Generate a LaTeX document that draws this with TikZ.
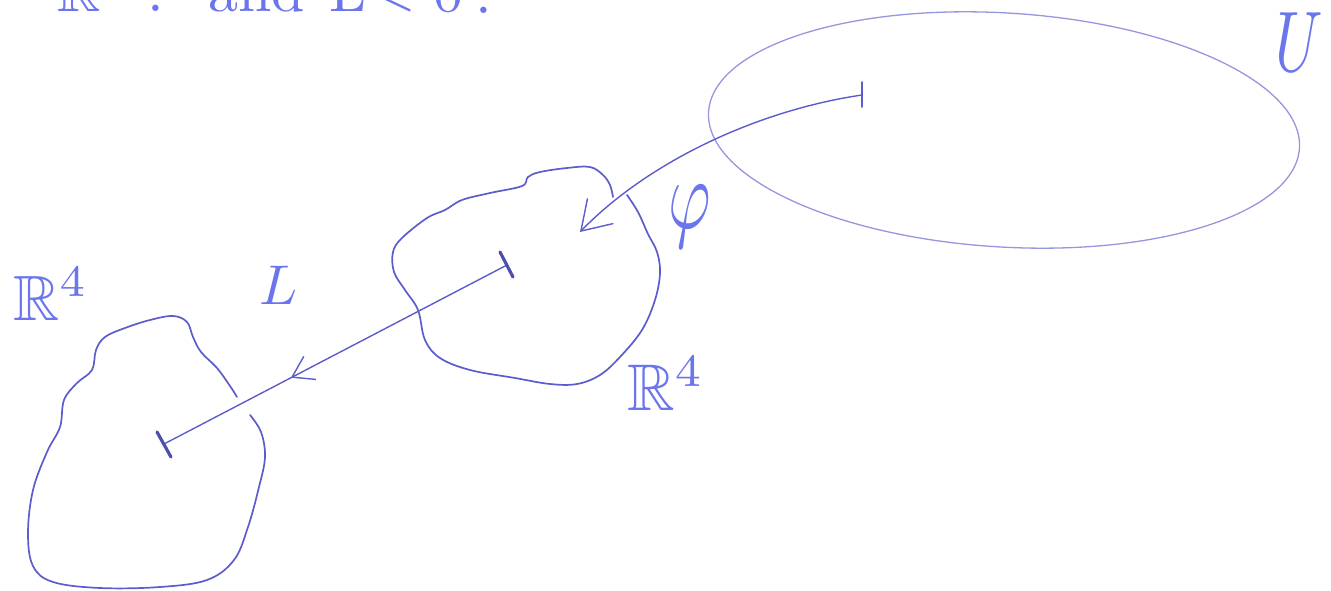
\documentclass[tikz,border=0pt]{standalone}
\usepackage{amssymb}
\usetikzlibrary{arrows.meta,decorations.markings}
\definecolor{ink}{RGB}{92,92,205}
\definecolor{txt}{RGB}{108,118,236}
\definecolor{pale}{RGB}{150,150,222}
\begin{document}
\begin{tikzpicture}[x=1pt,y=-1pt,
  blob/.style={draw=ink,line width=1.7pt,line join=round,line cap=round},
  conn/.style={draw=ink,line width=1.4pt,line cap=round},
  tick/.style={draw=ink!85!black,line width=3.2pt,line cap=round},
  lab/.style={text=txt,inner sep=0pt}]
\useasboundingbox (0,0) rectangle (1331,591);
\clip (0,0) rectangle (1331,591);

% partially visible heading
\node[lab,scale=6,anchor=base west] (t1) at (56,12) {$\mathbb{R}^4$};
\node[lab,scale=6,anchor=base west] (t2) at (146,12) {:};
\node[lab,scale=6,anchor=base west] (t3) at (207,12) {and};
\node[lab,scale=6,anchor=base west] (t4) at (328,12) {L};
\node[lab,scale=6,anchor=base west] (t5) at (368,10) {$<$};
\node[lab,scale=6,anchor=base west] (t6) at (432,12) {0};
\node[lab,scale=6,anchor=base west] (t7) at (474,14) {.};

% ellipse U
\draw[pale,line width=1.3pt,rotate around={-3.5:(1004,130)}] (1004,130) ellipse [x radius=296, y radius=117];

% left blob
\draw[blob] plot[smooth,tension=0.6] coordinates {(250,415) (261,432) (265,457) (259,487) (248,527) (234,560) (207,580) (160,587) (100,588) (53,582) (33,566) (28,533) (33,490) (47,452) (60,427) (64,400) (77,383) (92,370) (96,350) (105,337) (125,328) (150,320) (173,316) (187,322) (193,337) (201,352) (217,368) (230,386) (237,397)};

% middle blob
\draw[blob] plot[smooth,tension=0.6] coordinates {(627,195) (638,212) (648,234) (657,252) (660,273) (655,300) (642,330) (620,357) (600,375) (577,384) (550,384) (515,378) (470,370) (440,358) (425,340) (418,310) (405,290) (394,272) (393,252) (402,238) (427,218) (445,210) (462,200) (490,193) (522,186) (528,177) (540,172) (567,168) (590,167) (603,175) (610,185) (613,197)};

% points
\coordinate (e) at (862,95);
\coordinate (m) at (507,265);
\coordinate (l) at (164,444);
\coordinate (p) at (580,232);

% connectors
\draw[conn,-{Straight Barb[length=28pt,width=36pt,line width=1.4pt]}] (e) .. controls (760,110) and (650,160) .. (p);
\draw[conn,postaction={decorate},decoration={markings,mark=at position 0.63 with {\arrow{Straight Barb[length=20pt,width=26pt,line width=1.4pt]}}}] (m) -- (l);

% ticks
\draw[ink,line width=1.8pt,line cap=round,shift={(e)}] (0,-13) -- (0,12);
\draw[tick,shift={(m)}] (-7,-13) -- (6,12);
\draw[tick,shift={(l)}] (-7,-12) -- (7,13);

% labels
\node[lab,scale=6.4,anchor=base west] (r1) at (12,320) {$\mathbb{R}^4$};
\node[lab,scale=6.6,anchor=base west] (r2) at (626,410) {$\mathbb{R}^4$};
\node[lab,scale=5.6,anchor=base west] (lL) at (258,304) {$L$};
\node[lab,xscale=6.5,yscale=10,anchor=base] (phi) at (690,228) {$\varphi$};
\node[lab,xscale=6,yscale=8.6,anchor=base west] (uU) at (1274,72) {$U$};
\end{tikzpicture}
\end{document}
